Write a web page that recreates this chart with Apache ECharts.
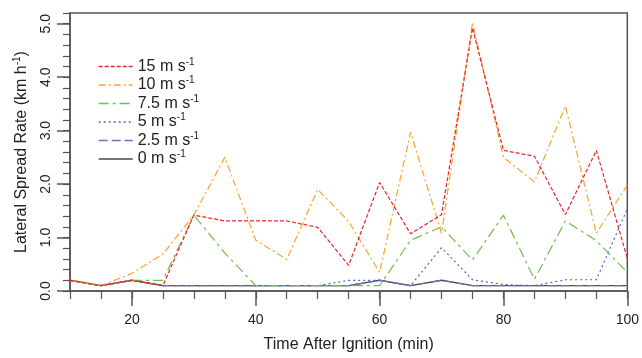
<!DOCTYPE html>
<html><head><meta charset="utf-8">
<script src="https://cdn.jsdelivr.net/npm/echarts@6/dist/echarts.min.js"></script>
<style>html,body{margin:0;padding:0;background:#fff}#c{width:642px;height:358px}</style>
</head><body><div id="c"></div><script>
// ---- data ----
const times = [10,15,20,25,30,35,40,45,50,55,60,65,70,75,80,85,90,95,100];
const wind15 = [0.2,0.1,0.2,0.1,1.42,1.31,1.31,1.31,1.19,0.48,2.03,1.07,1.43,4.92,2.63,2.52,1.43,2.63,0.61];
const wind10 = [0.2,0.1,0.33,0.69,1.42,2.5,0.95,0.59,1.9,1.3,0.35,2.97,1.08,5.02,2.5,2.04,3.46,1.08,1.98];
const wind7_5 = [0.2,0.1,0.2,0.2,1.42,0.71,0.1,0.1,0.1,0.1,0.1,0.95,1.2,0.58,1.42,0.22,1.31,0.94,0.35];
const wind5 = [0.2,0.1,0.2,0.1,0.1,0.1,0.1,0.1,0.1,0.2,0.2,0.1,0.81,0.21,0.12,0.1,0.21,0.21,1.54];
const wind2_5 = [0.2,0.1,0.2,0.1,0.1,0.1,0.1,0.1,0.1,0.1,0.2,0.1,0.2,0.1,0.1,0.1,0.1,0.1,0.1];
const wind0 = [0.2,0.1,0.2,0.1,0.1,0.1,0.1,0.1,0.1,0.1,0.2,0.1,0.2,0.1,0.1,0.1,0.1,0.1,0.1];
const seriesNames = ['15 m s-1','10 m s-1','7.5 m s-1','5 m s-1','2.5 m s-1','0 m s-1'];
const xMajorTicks = [20,40,60,80,100];
const yMajorTicks = [0,1,2,3,4,5];
const xTitle = 'Time After Ignition (min)';
const yTitle = 'Lateral Spread Rate (km h-1)';

// ---- chart ----
const chart = echarts.init(document.getElementById('c'), null, {renderer: 'canvas'});
const axisColor = '#555';
const supRich = {sup: {fontSize: 10, padding: [0, 0, 9, 0], color: '#222', fontFamily: 'Liberation Sans'}};
function supFmt(s) { return s.replace('-1', '{sup|-1}'); }

const styles = [
  {color: '#e8252b', type: [4, 2]},
  {color: '#f7a42a', type: [7, 3, 2, 3]},
  {color: '#6fbf4c', type: [10, 4, 3, 4]},
  {color: '#4f67c0', type: [2, 3]},
  {color: '#8a63b8', type: [9, 4]},
  {color: '#4a4a4a', type: 'solid'}
];
const values = [wind15, wind10, wind7_5, wind5, wind2_5, wind0];
const series = seriesNames.map((n, i) => ({
  name: n, type: 'line', symbol: 'none', xAxisIndex: 0, yAxisIndex: 0,
  data: times.map((t, j) => [t, values[i][j]]),
  lineStyle: {color: styles[i].color, width: i === 5 ? 1.4 : 1.2, type: styles[i].type},
  itemStyle: {color: styles[i].color},
  z: 10 - i
})).reverse();

const xBase = {type: 'value', min: 10, max: 100, gridIndex: 0, position: 'bottom', splitLine: {show: false}};
const yBase = {type: 'value', min: 0, max: 5.2, gridIndex: 0, position: 'left', splitLine: {show: false}};

chart.setOption({
  animation: false,
  textStyle: {fontFamily: 'Liberation Sans'},
  grid: {left: 70, right: 11, top: 13, bottom: 65, show: true, borderColor: axisColor, borderWidth: 1.5, backgroundColor: 'transparent'},
  legend: {
    orient: 'vertical', left: 93, top: 52, itemWidth: 34, itemHeight: 14, itemGap: 1,
    data: seriesNames,
    formatter: supFmt,
    itemStyle: {opacity: 0},
    lineStyle: {width: 1.4},
    textStyle: {fontSize: 16, color: '#222', lineHeight: 14, rich: supRich},
    selectedMode: false
  },
  xAxis: [
    Object.assign({}, xBase, {
      axisLine: {show: true, lineStyle: {color: axisColor, width: 1.5}},
      axisTick: {show: true, customValues: xMajorTicks, length: 15, lineStyle: {color: axisColor, width: 1.5}},
      axisLabel: {show: true, customValues: xMajorTicks, margin: 22, fontSize: 14, color: '#222'},
      name: xTitle, nameLocation: 'middle', nameGap: 46,
      nameTextStyle: {fontSize: 16, color: '#222'}
    }),
    Object.assign({}, xBase, {
      interval: 5, offset: 0,
      axisLine: {show: false},
      axisTick: {show: true, length: 8, lineStyle: {color: axisColor, width: 1.2}},
      axisLabel: {show: false}
    })
  ],
  yAxis: [
    Object.assign({}, yBase, {
      axisLine: {show: true, lineStyle: {color: axisColor, width: 1.5}},
      axisTick: {show: true, customValues: yMajorTicks, length: 13, lineStyle: {color: axisColor, width: 1.5}},
      axisLabel: {show: true, customValues: yMajorTicks, rotate: 90, margin: 17, fontSize: 14, color: '#222',
        formatter: v => v.toFixed(1)},
      name: supFmt(yTitle), nameLocation: 'middle', nameGap: 39, nameRotate: 90,
      nameTextStyle: {fontSize: 16, color: '#222', rich: supRich}
    }),
    Object.assign({}, yBase, {
      interval: 0.2, offset: 0,
      axisLine: {show: false},
      axisTick: {show: true, length: 7, lineStyle: {color: axisColor, width: 1.2}},
      axisLabel: {show: false}
    })
  ],
  series: series
});
</script></body></html>
